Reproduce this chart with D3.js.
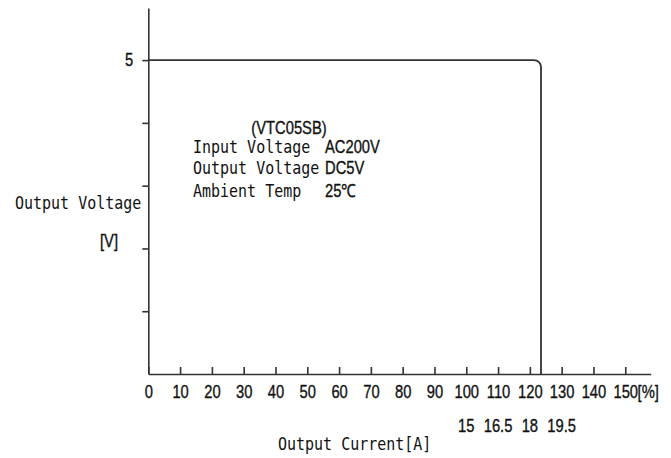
<!DOCTYPE html>
<html>
<head>
<meta charset="utf-8">
<script src="https://cdn.jsdelivr.net/npm/d3@7"></script>
<style>
    body { margin: 0; background: #fff; }
    svg { display: block; }
    .num { font-family: "Liberation Sans", Arial, sans-serif; fill: #111; font-size: 18px; stroke: #111; stroke-width: 0.35px; }
    .mono { font-family: "DejaVu Sans Mono", "Liberation Mono", monospace; fill: #111; font-size: 15px; }
</style>
</head>
<body>
<div id="chart"></div>
<script>
const W = 671,
    H = 458;

// load ratio [%] ticks on the x axis
const loadTicks = [0, 10, 20, 30, 40, 50, 60, 70, 80, 90, 100, 110, 120, 130, 140, 150];
// output current [A] labels under some of the load ticks
const currentAt = [100, 110, 120, 130];
const currentLabels = ["15", "16.5", "18", "19.5"];
// voltage ticks, only 5 gets a label
const voltTicks = [1, 2, 3, 4, 5];
// the characteristic curve: load [%] vs output voltage [V]
const curveLoad = [0, 123.5, 123.5];
const curveVolt = [5, 5, 0];
// spec note
const noteLeft = ["Input Voltage", "Output Voltage", "Ambient Temp"];
const noteRight = ["AC200V", "DC5V", "25℃"];

const ink = "#333";
const narrow = 0.82, // the sans text in the original is condensed
    tall = 1.12;     // and the mono text is a bit taller

let svg = d3.select("#chart").append("svg")
    .attr("width", W)
    .attr("height", H);

// Map data to pixels
let x = d3.scaleLinear()
    .domain([0, 158])
    .range([148.3, 650.7]);
let y = d3.scaleLinear()
    .domain([0, 5.83])
    .range([374, 8]);

// place a text at (px, py) squeezed / stretched around its anchor
function label(g, px, py, str, cls, anchor) {
    let s = cls === "num" ? `scale(${narrow},1)` : `scale(1,${tall})`;
    return g.append("text")
        .attr("class", cls)
        .attr("text-anchor", anchor || "start")
        .attr("transform", `translate(${px},${py}) ${s}`)
        .text(str);
}

// x axis, ticks pointing up into the plot
let gx = svg.append("g")
    .attr("transform", `translate(0,${y(0)})`)
    .call(d3.axisBottom(x).tickValues(loadTicks).tickSizeInner(-7).tickSizeOuter(0).tickPadding(11));
gx.selectAll(".tick text")
    .attr("class", "num")
    .attr("fill", null)
    .attr("transform", `scale(${narrow},1)`);

// "[%]" right after the 150 label
let last = gx.selectAll(".tick text").filter(d => d === 150);
let halfW = last.node().getComputedTextLength() * narrow / 2;
label(gx, x(150) + halfW, 24, "[%]", "num");

// y axis
let gy = svg.append("g")
    .attr("transform", `translate(${x(0)},0)`)
    .call(d3.axisLeft(y).tickValues(voltTicks).tickFormat(d => d === 5 ? "5" : "").tickSizeInner(6).tickSizeOuter(0).tickPadding(9));
gy.selectAll(".tick text")
    .attr("class", "num")
    .attr("fill", null)
    .attr("x", -15 / narrow)
    .attr("transform", `scale(${narrow},1)`);

svg.selectAll(".domain, .tick line")
    .attr("stroke", ink)
    .attr("stroke-width", 1.6);

// second row: output current
let gc = svg.append("g");
currentAt.forEach((d, i) => label(gc, x(d), 432, currentLabels[i], "num", "middle"));

// curve with a rounded knee
let p = d3.path();
p.moveTo(x(curveLoad[0]), y(curveVolt[0]));
p.arcTo(x(curveLoad[1]), y(curveVolt[1]), x(curveLoad[2]), y(curveVolt[2]), 7);
p.lineTo(x(curveLoad[2]), y(curveVolt[2]));
svg.append("path")
    .attr("d", p.toString())
    .attr("fill", "none")
    .attr("stroke", ink)
    .attr("stroke-width", 1.8);

// axis titles
label(svg, 15, 209, "Output Voltage", "mono");
label(svg, 109, 247, "[V]", "num", "middle");
label(svg, 278, 450, "Output Current[A]", "mono");

// spec note
label(svg, 289, 134, "(VTC05SB)", "num", "middle");
let rows = [153, 174, 197];
noteLeft.forEach((d, i) => label(svg, 193, rows[i], d, "mono"));
noteRight.forEach((d, i) => label(svg, 325, rows[i], d, "num"));
</script>
</body>
</html>
